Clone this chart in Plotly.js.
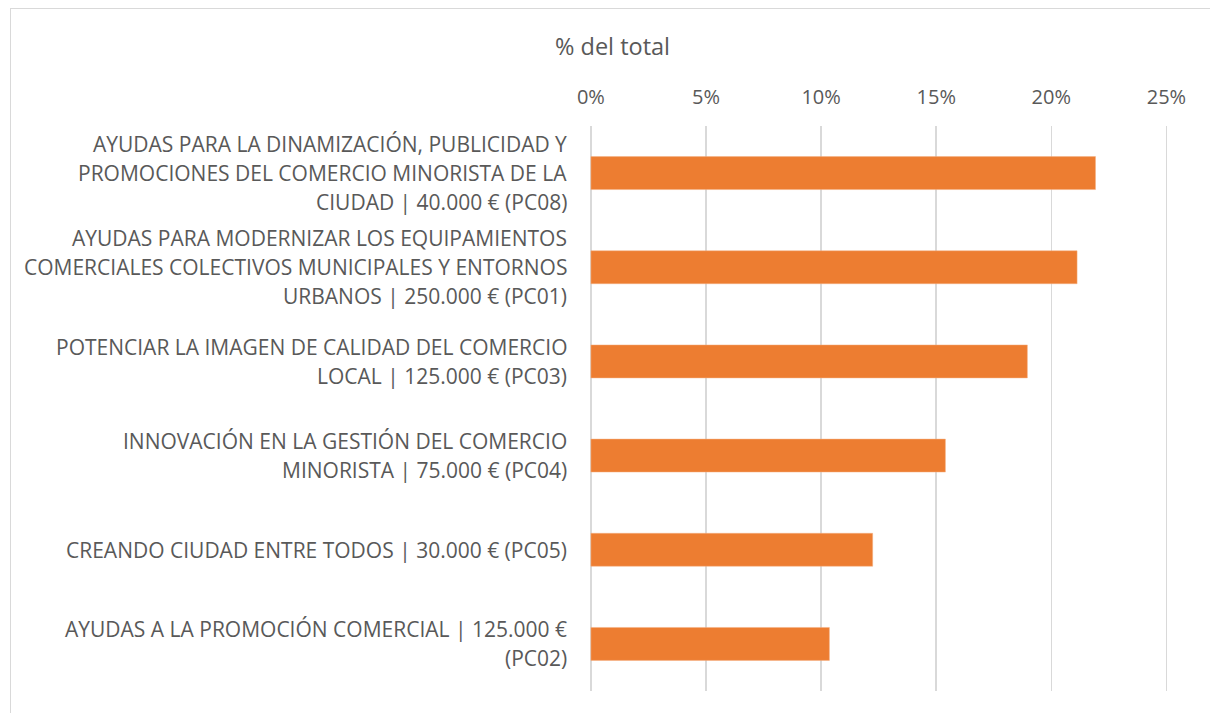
<!DOCTYPE html>
<html>
<head>
<meta charset="utf-8">
<script src="https://cdn.plot.ly/plotly-3.0.1.min.js"></script>
<style>
  html, body { margin: 0; padding: 0; background: #fff; }
  #chart { width: 1210px; height: 713px; }
  #frame { position: absolute; left: 10px; top: 8px; width: 1300px; height: 800px;
           border-left: 1.5px solid #d9d9d9; border-top: 1.5px solid #d9d9d9; pointer-events: none; }
</style>
</head>
<body>
<div id="chart"></div>
<div id="frame"></div>
<script>
// Category labels (lines as shown in the chart), top to bottom
const categoryLines = [
  ["AYUDAS PARA LA DINAMIZACIÓN, PUBLICIDAD Y", "PROMOCIONES DEL COMERCIO MINORISTA DE LA", "CIUDAD | 40.000 € (PC08)"],
  ["AYUDAS PARA MODERNIZAR LOS EQUIPAMIENTOS", "COMERCIALES COLECTIVOS MUNICIPALES Y ENTORNOS", "URBANOS | 250.000 € (PC01)"],
  ["POTENCIAR LA IMAGEN DE CALIDAD DEL COMERCIO", "LOCAL | 125.000 € (PC03)"],
  ["INNOVACIÓN EN LA GESTIÓN DEL COMERCIO", "MINORISTA | 75.000 € (PC04)"],
  ["CREANDO CIUDAD ENTRE TODOS | 30.000 € (PC05)"],
  ["AYUDAS A LA PROMOCIÓN COMERCIAL | 125.000 €", "(PC02)"]
];
const categories = categoryLines.map(l => l.join(" "));
const shareOfTotal = [0.2192, 0.2112, 0.1896, 0.1540, 0.1224, 0.1036];
const axisTitle = "% del total";

const textColor = "#595959";
const fontFamily = "'Open Sans', 'Noto Sans', sans-serif";

const annotations = [];
categoryLines.forEach((lines, i) => {
  const n = lines.length;
  lines.forEach((line, j) => {
    annotations.push({
      xref: "paper", yref: "y", x: 0, y: categories[i],
      xanchor: "right", yanchor: "middle", xshift: -21,
      yshift: ((n - 1) / 2 - j) * 29,
      text: line, showarrow: false,
      font: { family: fontFamily, size: 21, color: textColor }
    });
  });
});
annotations.push({
  xref: "paper", yref: "paper", x: 0.039, y: 1.1415,
  xanchor: "center", yanchor: "middle",
  text: axisTitle, showarrow: false,
  font: { family: fontFamily, size: 23.5, color: textColor }
});

const trace = {
  type: "bar", orientation: "h",
  x: shareOfTotal, y: categories,
  marker: { color: "#ED7D31", line: { color: "#F4B183", width: 0.5 } },
  hoverinfo: "x+y"
};

const layout = {
  width: 1210, height: 713,
  margin: { l: 589.6, r: 39.4, t: 126, b: 21.5 },
  paper_bgcolor: "#ffffff", plot_bgcolor: "#ffffff",
  bargap: 0.65,
  showlegend: false,
  font: { family: fontFamily, color: textColor, size: 20 },
  xaxis: {
    side: "top", range: [-0.0004, 0.252], dtick: 0.05, tick0: 0, tickformat: ".0%",
    showgrid: true, gridcolor: "#d9d9d9", gridwidth: 1.5,
    zeroline: true, zerolinecolor: "#d9d9d9", zerolinewidth: 1.5,
    showline: false, ticks: "",
    tickfont: { family: fontFamily, size: 20, color: textColor },
    ticklabelstandoff: 17
  },
  yaxis: {
    autorange: "reversed", showticklabels: false, showgrid: false,
    zeroline: false, showline: false, ticks: ""
  },
  annotations: annotations
};

Plotly.newPlot("chart", [trace], layout, { displayModeBar: false, staticPlot: true });
</script>
</body>
</html>
